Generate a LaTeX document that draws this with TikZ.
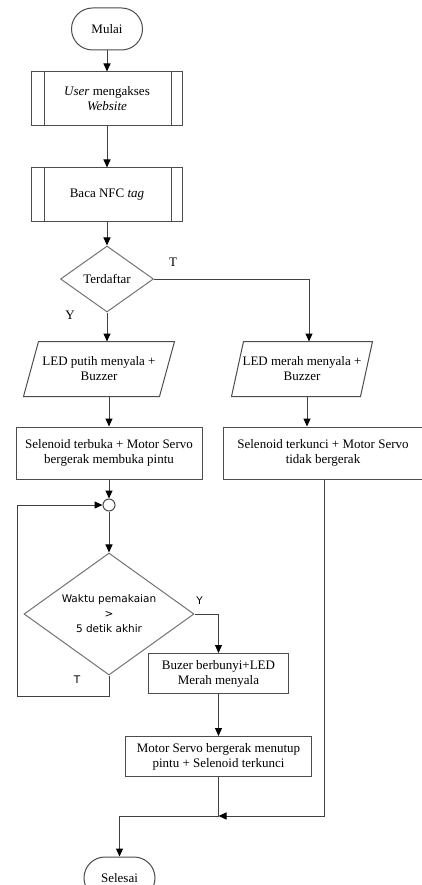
\documentclass[tikz,border=0pt]{standalone}
\usepackage{fontspec}
\setmainfont{Liberation Serif}
\newfontfamily\vsans{DejaVu Sans}
\usetikzlibrary{positioning,arrows.meta,shapes.geometric,calc}

\begin{document}
\begin{tikzpicture}[
  font=\fontsize{13}{15}\selectfont,
  line width=1pt,
  base/.style  = {draw=black!70, align=center, inner sep=2pt, fill=white},
  term/.style  = {base, rounded corners=21pt, minimum width=71pt, minimum height=42pt},
  proc/.style  = {base, minimum height=52pt},
  sub/.style   = {base, minimum width=151pt, minimum height=54pt},
  io/.style    = {align=center, inner sep=0pt, minimum height=54pt},
  dec/.style   = {base, diamond, draw=black!55, aspect=1.4, inner sep=0pt},
  con/.style   = {base, circle, minimum size=12pt, inner sep=0pt},
  ar/.style    = {draw=black!75, -{Triangle[length=8pt,width=7pt,color=black]}},
  ln/.style    = {draw=black!75},
  lbl/.style   = {inner sep=1pt},
  slbl/.style  = {lbl, font=\vsans\fontsize{10.5}{15}\selectfont}
]
\useasboundingbox (0,0) rectangle (422pt,-885pt);

% ---- start, input ---------------------------------------------------------
\node[term] (mulai) at (107pt,-29pt) {Mulai};
\node[sub, below=21pt of mulai] (web) {\textit{User} mengakses\\\textit{Website}};
\node[sub, below=41pt of web] (nfc) {Baca NFC \textit{tag}};
\foreach \n in {web,nfc} {
  \draw[draw=black!70] ([xshift=13pt]\n.north west) -- ([xshift=13pt]\n.south west);
  \draw[draw=black!70] ([xshift=-12pt]\n.north east) -- ([xshift=-12pt]\n.south east);
}
\draw[ar] (mulai) -- (web);
\draw[ar] (web) -- (nfc);

% ---- registered? ----------------------------------------------------------
\node[dec, minimum width=93pt, minimum height=66pt, below=23pt of nfc] (dftr) {Terdaftar};
\draw[ar] (nfc) -- (dftr);

\node[io, minimum width=135pt, below=29pt of dftr, xshift=-8pt] (putih)
  {LED putih menyala +\\Buzzer};
\node[io, minimum width=128pt, right=70.5pt of putih] (merah)
  {LED merah menyala +\\Buzzer};
\foreach \n/\s in {putih/7.5pt, merah/6pt}
  \draw[draw=black!70] ([xshift=\s]\n.north west) -- ([xshift=\s]\n.north east)
    -- ([xshift=-\s]\n.south east) -- ([xshift=-\s]\n.south west) -- cycle;

\draw[ar] (dftr.south) -- (dftr.south |- putih.north);
\draw[ar] (dftr.east) -| ([xshift=7pt]merah.north);
\node[lbl] (t1) at ([xshift=19pt,yshift=17pt]dftr.east) {T};
\node[lbl] (y1) at ([xshift=-37pt,yshift=-3pt]dftr.south) {Y};

\node[proc, minimum width=186pt, below=30pt of putih, xshift=10pt] (sel1)
  {Selenoid terbuka + Motor Servo\\bergerak membuka pintu};
\node[proc, minimum width=200pt, right=20pt of sel1] (sel2)
  {Selenoid terkunci + Motor Servo\\tidak bergerak};
\draw[ar] (sel1.north |- putih.south) -- (sel1.north);
\draw[ar] ([xshift=5pt]merah.south) -- ([xshift=5pt]merah.south |- sel2.north);

% ---- timer loop -----------------------------------------------------------
\node[con, below=19pt of sel1] (cir) {};
\draw[ar] (sel1) -- (cir);

\node[dec, minimum width=170pt, minimum height=122pt, below=41pt of cir,
      font=\vsans\fontsize{10.5}{15}\selectfont] (waktu)
  {Waktu pemakaian\\>\\5 detik akhir};
\draw[ar] (cir) -- (waktu);
\node[slbl] (y2) at ([xshift=5pt,yshift=13pt]waktu.east) {Y};
\node[slbl] (t2) at ([xshift=-32pt,yshift=-4pt]waktu.south) {T};
\draw[ar] (waktu.south) -- ++(0,-21pt) -- ++(-92pt,0) |- (cir.west);

\node[proc, minimum width=140pt, minimum height=40pt, anchor=north] (buzer)
  at ($(waktu.east)+(24pt,-39pt)$) {Buzer berbunyi+LED\\Merah menyala};
\draw[ar] (waktu.east) -| (buzer.north);

\node[proc, minimum width=186pt, minimum height=40pt, below=42pt of buzer] (servo)
  {Motor Servo bergerak menutup\\pintu + Selenoid terkunci};
\draw[ar] (buzer) -- (servo);

% ---- end ------------------------------------------------------------------
\coordinate (join) at ($(servo.south)+(0,-39pt)$);
\node[term] (selesai) at ($(join)+(-99pt,-62pt)$) {Selesai};
\draw[ln] (servo.south) -- (join);
\draw[ar] ([xshift=1pt]sel2.south) |- (join);
\draw[ar] (join) -| (selesai.north);

\end{tikzpicture}
\end{document}
